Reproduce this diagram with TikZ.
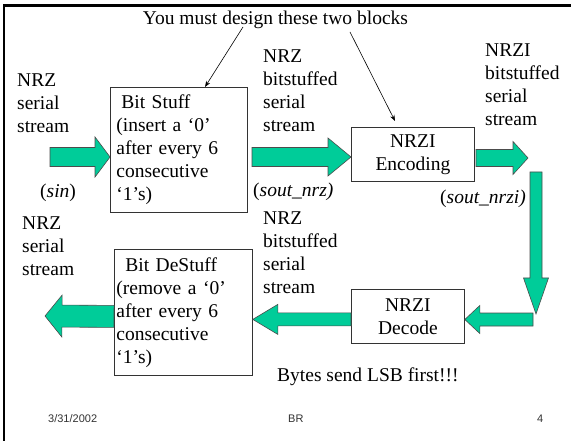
\documentclass[tikz,border=0pt]{standalone}
\usepackage{fontspec}
\setmainfont{Liberation Serif}
\newfontfamily\footfont{Liberation Sans}
\usetikzlibrary{calc, arrows.meta}
\definecolor{flowgreen}{RGB}{0,204,153}

% block arrow: start, end, half body, half head, head length
\newcommand{\flowarrow}[5]{%
  \coordinate (hb) at ($(#2)!#5pt!(#1)$);
  \draw[flow] ($(#1)!#3pt!90:(#2)$) -- ($(hb)!#3pt!90:(#2)$) -- ($(hb)!#4pt!90:(#2)$)
    -- (#2) -- ($(hb)!#4pt!-90:(#2)$) -- ($(hb)!#3pt!-90:(#2)$) -- ($(#1)!#3pt!-90:(#2)$) -- cycle;
}

\begin{document}
\begin{tikzpicture}[x=1pt,y=-1pt]
        \tikzset{blockbox/.style = {draw=black!80, line width=0.8pt, font=\fontsize{19.5}{23}\selectfont, anchor=north west}}
        \tikzset{lbl/.style = {font=\fontsize{19.5}{23}\selectfont, align=left, inner sep=0pt}}
        \tikzset{flow/.style = {fill=flowgreen, draw=black!70, line width=0.6pt, line join=miter}}
        \tikzset{pointer/.style = {-{Stealth[length=6pt,width=4.5pt]}, line width=0.6pt}}
        \tikzset{foot/.style = {font=\footfont\fontsize{11}{13}\selectfont, inner sep=0pt, text=black!80, anchor=base west}}

        \fill[white] (0,0) rectangle (571,441);
        \useasboundingbox (0,0) rectangle (571,441);
        \draw[line width=2.6pt] (3.9,441) -- (3.9,5.3) -- (571,5.3);

        \node[lbl, anchor=base] (title) at (275.5,25) {You must design these two blocks};

        \node[blockbox, align=left, minimum height=125pt, text width=125pt, inner xsep=6pt] (stuff) at (110,87)
          {\hspace*{5pt}Bit Stuff\\(insert a `0'\\after every 6\\consecutive\\`1's)};
        \node[blockbox, align=center, minimum height=54pt, text width=111pt, inner xsep=6pt] (enc) at (351,127)
          {NRZI\\Encoding};
        \node[blockbox, align=center, minimum height=54pt, text width=101pt, inner xsep=6pt] (dec) at (351,289)
          {NRZI\\Decode};
        \node[blockbox, align=left, minimum height=126pt, text width=134pt, inner xsep=2pt] (destuff) at (114,249)
          {\hspace*{9pt}Bit DeStuff\\(remove a `0'\\after every 6\\consecutive\\`1's)};

        \node[lbl, anchor=north west] (nrzin) at (17,73.5) {NRZ\\serial\\stream};
        \node[lbl, anchor=north west] (nrzmid) at (263,49.5) {NRZ\\bitstuffed\\serial\\stream};
        \node[lbl, anchor=north west] (nrzimid) at (485,43.5) {NRZI\\bitstuffed\\serial\\stream};
        \node[lbl, anchor=base west] (sin) at (40,198) {(\textit{sin})};
        \node[lbl, anchor=base west] (soutnrz) at (253,197) {(\textit{sout\_nrz)}};
        \node[lbl, anchor=base west] (soutnrzi) at (440,204) {(\textit{sout\_nrzi)}};
        \node[lbl, anchor=north west] (nrzout) at (22,216.5) {NRZ\\serial\\stream};
        \node[lbl, anchor=north west] (nrzback) at (263,211.5) {NRZ\\bitstuffed\\serial\\stream};
        \node[lbl, anchor=base west] (lsb) at (277,381) {Bytes send LSB first!!!};

        \node[foot] (date) at (48,422) {3/31/2002};
        \node[foot] (author) at (288,422) {BR};
        \node[foot] (page) at (537,422) {4};

        % block arrows
        \coordinate (a1s) at (50,157);
        \coordinate (a1e) at (stuff.west |- a1s);
        \flowarrow{a1s}{a1e}{9.5}{20}{15}
        \coordinate (a2s) at (252,157);
        \coordinate (a2e) at (enc.west |- a2s);
        \flowarrow{a2s}{a2e}{9.5}{19}{23}
        \coordinate (a3s) at (476,158);
        \coordinate (a3e) at (528,158);
        \flowarrow{a3s}{a3e}{8.5}{16.5}{15}
        \coordinate (a4s) at (536,172);
        \coordinate (a4e) at (536,314);
        \flowarrow{a4s}{a4e}{6}{12.5}{36}
        \coordinate (a5s) at (533,319.5);
        \coordinate (a5e) at (dec.east |- a5s);
        \flowarrow{a5s}{a5e}{6.5}{14}{15}
        \coordinate (a6s) at ($(dec.west)+(0,3)$);
        \coordinate (a6e) at (destuff.east |- a6s);
        \flowarrow{a6s}{a6e}{6.5}{15}{25}
        \coordinate (a7s) at ($(destuff.west)+(0,4)$);
        \coordinate (a7e) at (45,316);
        \flowarrow{a7s}{a7e}{11}{21}{17}

        % pointers from the title
        \coordinate (p1) at (243,27);
        \coordinate (p2) at (350,32);
        \draw[pointer] (p1) to ($(stuff.north west)+(95,0)$);
        \draw[pointer] (p2) to ($(enc.north west)+(44,-6)$);
      \end{tikzpicture}
\end{document}
